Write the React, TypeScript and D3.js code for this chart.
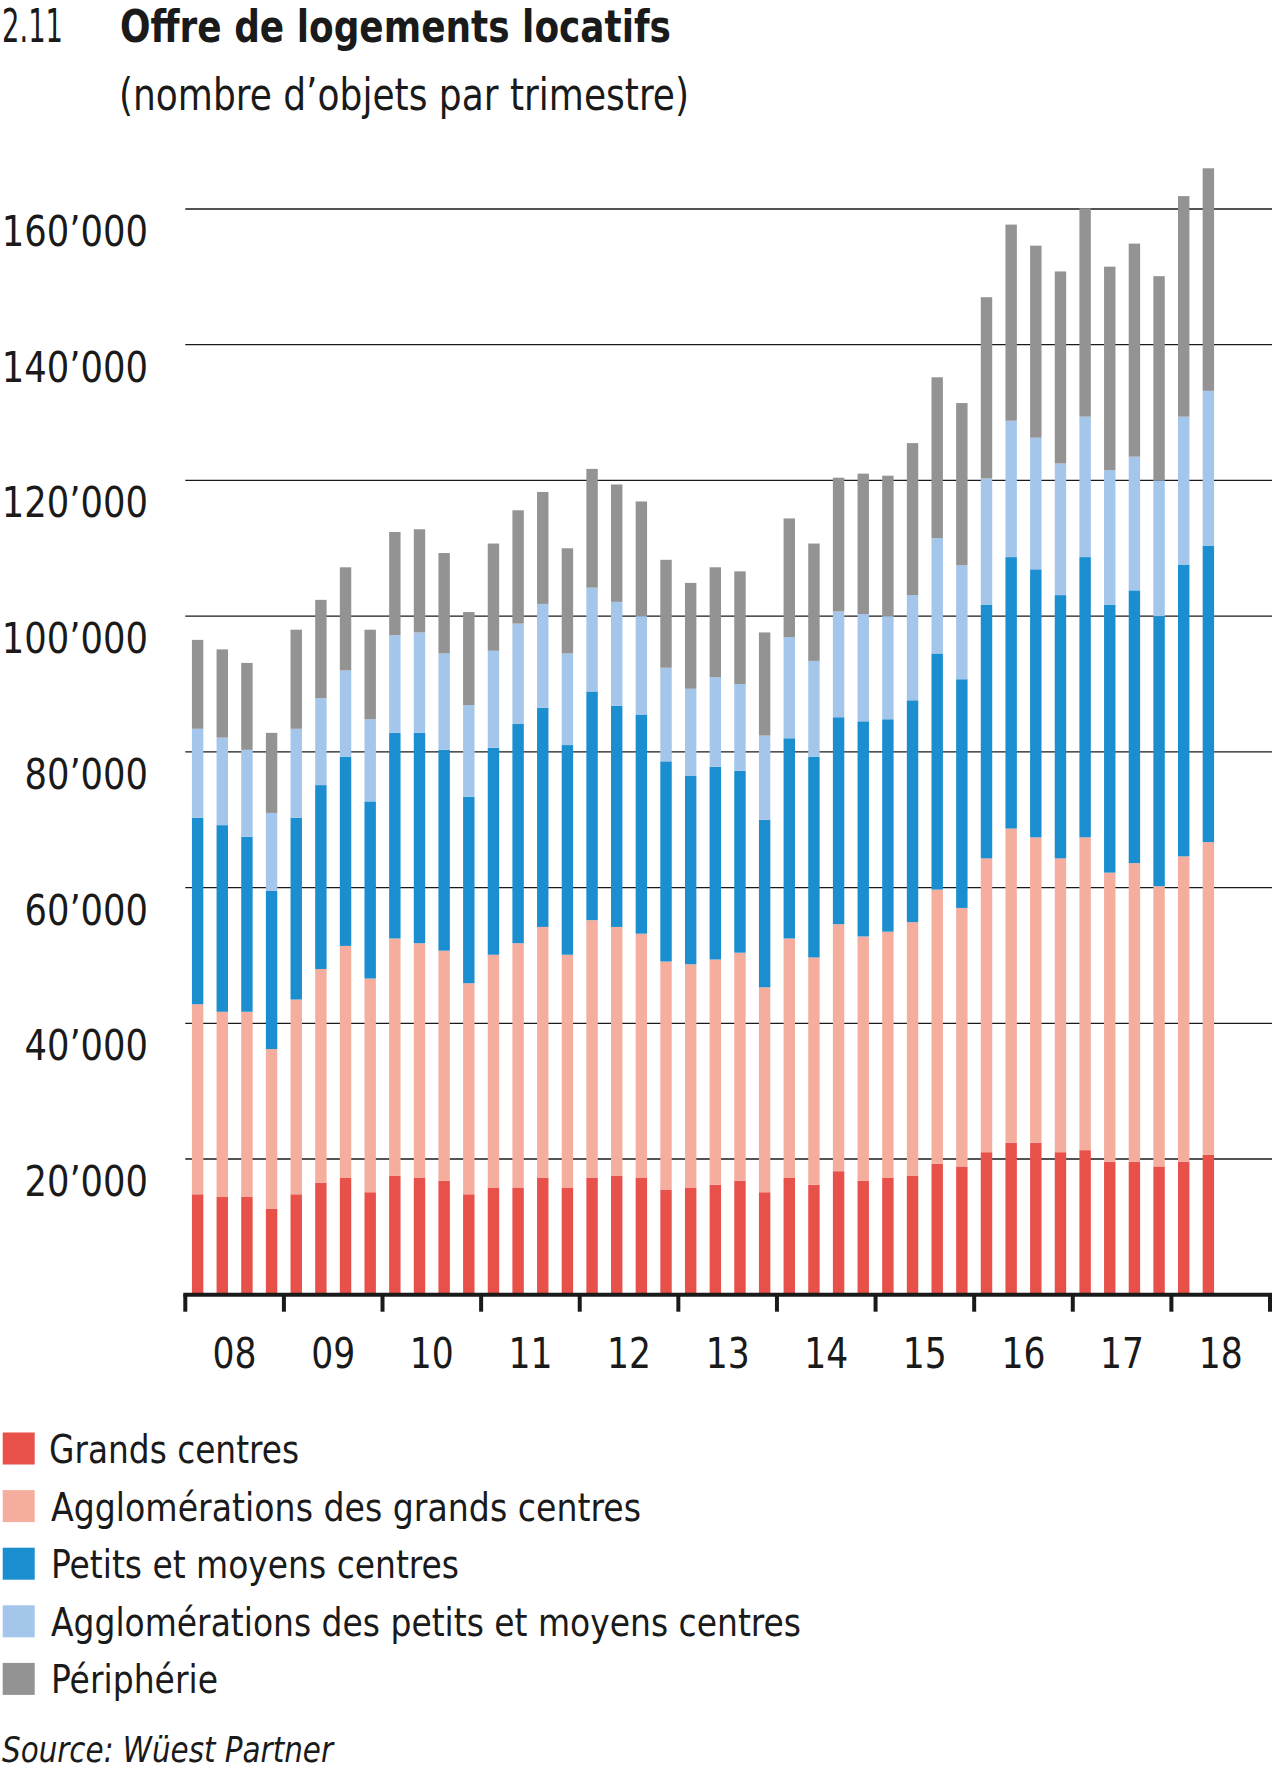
import * as d3 from 'd3'

const years = ['08', '09', '10', '11', '12', '13', '14', '15', '16', '17', '18']
const quarters = years.flatMap((y) => [1, 2, 3, 4].map((q) => `${y}Q${q}`))

const grandsCentres = [
  14800, 14400, 14400, 12700, 14800, 16500, 17200, 15100, 17500, 17200, 16800, 14800,
  15800, 15800, 17200, 15800, 17200, 17500, 17200, 15500, 15800, 16200, 16800, 15100,
  17200, 16200, 18200, 16800, 17200, 17500, 19300, 18900, 21000, 22400, 22400, 21000,
  21300, 19600, 19600, 18900, 19600, 20600,
]
const agglosGrands = [
  28000, 27300, 27300, 23500, 28700, 31500, 34200, 31500, 35000, 34600, 33900, 31100,
  34300, 36000, 37000, 34300, 38000, 36700, 36000, 33600, 32900, 33200, 33600, 30200,
  35300, 33500, 36400, 36000, 36300, 37400, 40400, 38100, 43300, 46300, 45000, 43300,
  46100, 42600, 44000, 41300, 45000, 46100,
]
const petitsMoyens = [
  27500, 27500, 25800, 23300, 26800, 27100, 27900, 26100, 30300, 31000, 29600, 27500,
  30500, 32300, 32300, 30900, 33700, 32600, 32300, 29500, 27800, 28400, 26800, 24700,
  29500, 29600, 30500, 31700, 31300, 32700, 34800, 33700, 37400, 40000, 39500, 38800,
  41300, 39500, 40200, 39800, 43000, 43700,
]
const agglosPetits = [
  13100, 12900, 12800, 11500, 13100, 12800, 12700, 12100, 14400, 14800, 14200, 13500,
  14300, 14800, 15300, 13500, 15300, 15300, 14500, 13800, 12800, 13200, 12800, 12400,
  14900, 14100, 15600, 15800, 15200, 15500, 17000, 16800, 18600, 20100, 19400, 19400,
  20700, 19800, 19700, 20000, 21800, 22800,
]
const peripherie = [
  13100, 13000, 12800, 11800, 14600, 14500, 15200, 13200, 15200, 15200, 14800, 13700,
  15800, 16700, 16500, 15500, 17500, 17300, 16900, 15900, 15600, 16200, 16600, 15200,
  17500, 17300, 19700, 20700, 20700, 22400, 23700, 23900, 26700, 28900, 28300, 28300,
  30700, 30000, 31400, 30100, 32500, 32800,
]

const seriesKeys = ['gc', 'ag', 'pm', 'ap', 'pe']
const seriesLabels = [
  'Grands centres',
  'Agglomérations des grands centres',
  'Petits et moyens centres',
  'Agglomérations des petits et moyens centres',
  'Périphérie',
]
const seriesColors = ['#e8504a', '#f5ae9e', '#1b8ed0', '#a3c6ea', '#939393']
const yTicks = [20000, 40000, 60000, 80000, 100000, 120000, 140000, 160000]

const FONT = "'Liberation Sans Narrow', 'DejaVu Sans Condensed', 'Roboto Condensed', sans-serif"
const INK = '#1a1a1a'

export default function App() {
  const width = 1280
  const height = 1772
  const x0 = 185.3
  const x1 = 1270
  const yBase = 1294.7

  const rows = quarters.slice(0, grandsCentres.length).map((q, i) => ({
    q,
    gc: grandsCentres[i],
    ag: agglosGrands[i],
    pm: petitsMoyens[i],
    ap: agglosPetits[i],
    pe: peripherie[i],
  }))
  const stacked = d3.stack<any>().keys(seriesKeys)(rows)

  const x = d3.scaleBand().domain(quarters).range([x0, x1]).paddingInner(0.537).paddingOuter(0.2685)
  const xYear = d3.scaleLinear().domain([0, years.length]).range([x0, x1])
  const y = d3.scaleLinear().domain([0, 160000]).range([yBase, 209])

  const fmt = (v: number) => {
    const s = String(v)
    return s.slice(0, s.length - 3) + '’' + s.slice(-3)
  }
  const digitW = 22.7

  return (
    <div style={{ position: 'absolute', left: 0, top: 0 }}>
      <svg width={width} height={height} style={{ display: 'block', background: '#fff' }}>
        {/* title */}
        <text x={2} y={42} fontFamily={FONT} fontSize={46} fill={INK} textLength={61} lengthAdjust="spacingAndGlyphs">
          2.11
        </text>
        <text x={120} y={42} fontFamily={FONT} fontWeight="bold" fontSize={45} fill={INK} textLength={551} lengthAdjust="spacingAndGlyphs">
          Offre de logements locatifs
        </text>
        <text x={119} y={110} fontFamily={FONT} fontSize={44} fill={INK} textLength={570} lengthAdjust="spacingAndGlyphs">
          (nombre d’objets par trimestre)
        </text>

        {/* grid + y labels */}
        {yTicks.map((v) => {
          const label = fmt(v)
          const w = (label.length - 1) * digitW + 10
          return (
            <g key={v}>
              <line x1={x0} x2={1272} y1={y(v)} y2={y(v)} stroke={INK} strokeWidth={1.3} />
              <text x={148 - w} y={y(v) + 37} fontFamily={FONT} fontSize={42} fill={INK} textLength={w} lengthAdjust="spacingAndGlyphs">
                {label}
              </text>
            </g>
          )
        })}

        {/* bars */}
        {stacked.map((s, si) => (
          <g key={s.key} fill={seriesColors[si]}>
            {s.map((d: any) => (
              <rect key={d.data.q} x={x(d.data.q)} width={x.bandwidth()} y={y(d[1])} height={y(d[0]) - y(d[1])} />
            ))}
          </g>
        ))}

        {/* x axis */}
        <line x1={x0 - 2} x2={x1 + 2} y1={yBase} y2={yBase} stroke={INK} strokeWidth={4} />
        {d3.range(years.length + 1).map((i) => (
          <line key={i} x1={xYear(i)} x2={xYear(i)} y1={yBase} y2={yBase + 17} stroke={INK} strokeWidth={4} />
        ))}
        {years.map((yr, i) => (
          <text
            key={yr}
            x={(xYear(i) + xYear(i + 1)) / 2 - 22}
            y={1368}
            fontFamily={FONT}
            fontSize={42}
            fill={INK}
            textLength={44}
            lengthAdjust="spacingAndGlyphs"
          >
            {yr}
          </text>
        ))}

        {/* legend */}
        {seriesLabels.map((lab, i) => {
          const widths = [250, 590, 408, 750, 167]
          const cy = 1448.5 + i * 57.6
          return (
            <g key={lab}>
              <rect x={2.7} y={cy - 16} width={32} height={32} fill={seriesColors[i]} />
              <text x={i === 0 ? 49 : 51} y={1463 + i * 57.6} fontFamily={FONT} fontSize={39} fill={INK} textLength={widths[i]} lengthAdjust="spacingAndGlyphs">
                {lab}
              </text>
            </g>
          )
        })}

        <text x={2} y={1762} fontFamily={FONT} fontStyle="italic" fontSize={35} fill={INK} textLength={331} lengthAdjust="spacingAndGlyphs">
          Source: Wüest Partner
        </text>
      </svg>
    </div>
  )
}
